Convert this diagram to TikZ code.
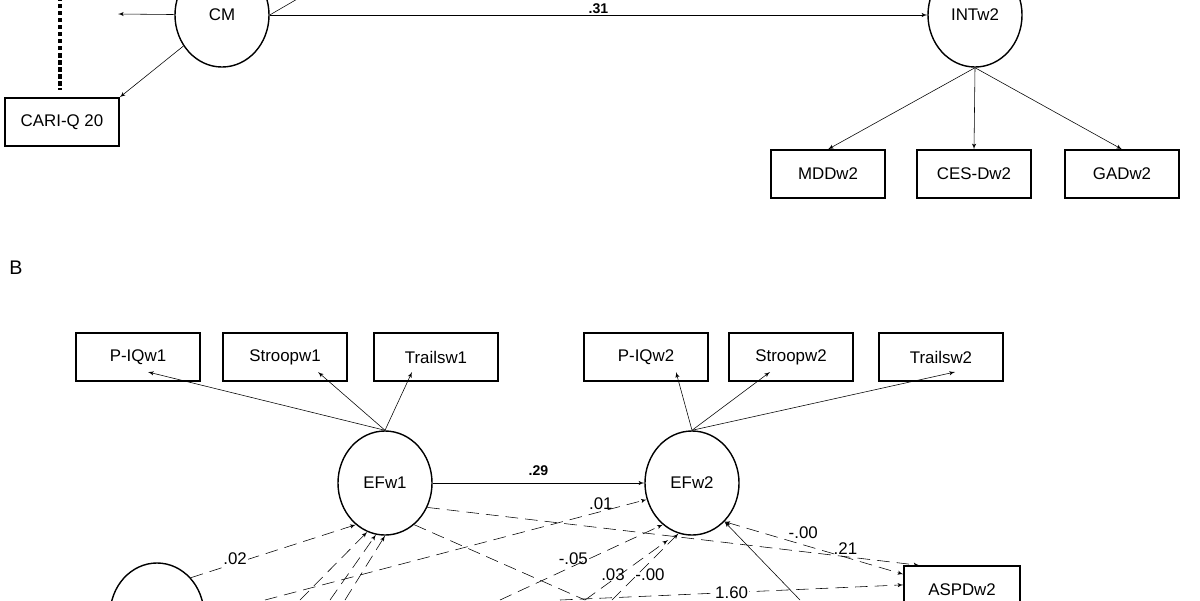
\documentclass[tikz,border=0pt]{standalone}
\usepackage{fontspec}
\setmainfont{Liberation Sans}
\usetikzlibrary{positioning,arrows,calc,shapes.geometric}
\tikzset{
    x=0.025cm,
    y=-0.025cm,
    block/.style = {
        draw,
        shape=rectangle,
        minimum height=1.2cm,
        minimum width=3.1cm,
        line width=1pt,
        font=\fontsize{12}{14}\selectfont
    },
    latent/.style = {
        draw,
        shape=ellipse,
        minimum height=2.6cm,
        minimum width=2.35cm,
        line width=1pt,
        font=\fontsize{12}{14}\selectfont
    },
    coef/.style = {
        font=\fontsize{12}{14}\selectfont,
        fill=white,
        inner sep=1pt
    },
    pathdash/.style = {
        dash pattern=on 9pt off 5pt
    },
    >=latex',
}
\begin{document}
\begin{tikzpicture}
            \useasboundingbox (0,0) rectangle (1200,600);
            \clip (0,0) rectangle (1200,600);
            % panel A
            \node[latent] (cm) at (222,15) {CM};
            \node[latent] (int2) at (975,15) {INTw2};
            \node[block, minimum width=2.85cm] (cari20) at (62,122) {CARI-Q 20};
            \node[block, minimum width=2.85cm] (mdd2) at (828,174) {MDDw2};
            \node[block, minimum width=2.85cm] (ces2) at (974,174) {CES-Dw2};
            \node[block, minimum width=2.85cm] (gad2) at (1122,174) {GADw2};
            \coordinate (cmleft) at (118,14);
            \coordinate (cmup) at (330,-20);
            \coordinate (dottop) at (60,-10);
            \coordinate (dotbot) at (60,90);

            \path[draw, ->] (cm) -- node[coef, above, font=\bfseries] {.31} (int2);
            \path[draw, ->] (cm) -- (cmleft);
            \path[draw, -] (cm.east) -- (cmup);
            \path[draw, ->] (cm) -- (cari20.north east);
            \path[draw, line width=3pt, dotted] (dottop) -- (dotbot);
            \path[draw, ->] (int2.south) -- (mdd2.north);
            \path[draw, ->] (int2.south) -- (ces2.north);
            \path[draw, ->] (int2.south) -- (gad2.north);

            % panel B
            \node[font=\fontsize{14}{16}\selectfont] (lblb) at (16,268) {B};
            \node[block] (piq1) at (138,357) {P-IQw1};
            \node[block] (stroop1) at (285,357) {Stroopw1};
            \node[block] (trails1) at (436,357) {Trailsw1};
            \node[block] (piq2) at (646,357) {P-IQw2};
            \node[block] (stroop2) at (791,357) {Stroopw2};
            \node[block] (trails2) at (941,357) {Trailsw2};
            \node[latent] (ef1) at (385,483) {EFw1};
            \node[latent] (ef2) at (692,483) {EFw2};
            \node[block, minimum width=2.9cm] (aspd2) at (962,590) {ASPDw2};
            \node[latent] (cmb) at (157,615) {};

            \path[draw, ->] (ef1.north) -- (148,372);
            \path[draw, ->] (ef1.north) -- (318,372);
            \path[draw, ->] (ef1.north) -- (412,372);
            \path[draw, ->] (ef2.north) -- (676,372);
            \path[draw, ->] (ef2.north) -- (770,372);
            \path[draw, ->] (ef2.north) -- (955,372);
            \path[draw, ->] (ef1) -- node[coef, above=4pt, fill=none, font=\bfseries] {.29} (ef2);

            \coordinate (s1) at (300,600);
            \coordinate (s2) at (330,600);
            \coordinate (s3) at (345,600);
            \coordinate (s4) at (265,600);
            \coordinate (s5) at (500,600);
            \coordinate (s6) at (612,600);
            \coordinate (s7) at (560,600);
            \coordinate (s8) at (585,600);
            \coordinate (s9) at (800,600);
            \path[draw, ->, pathdash] (cmb.north east) -- node[coef, pos=0.35, left] {.02} (ef1.235);
            \path[draw, ->, pathdash] (s1) -- (ef1.250);
            \path[draw, ->, pathdash] (s2) -- (ef1.260);
            \path[draw, ->, pathdash] (s3) -- (ef1.270);
            \path[draw, ->, pathdash] (s4) -- node[coef, pos=0.88, above, fill=none] {.01} (ef2.200);
            \path[draw, ->, pathdash] (s5) -- node[coef, pos=0.55, left, fill=none] {-.05} (ef2.235);
            \path[draw, ->, pathdash] (s6) -- (ef2.255);
            \node[coef, fill=none] (l03) at (613,575) {.03};
            \node[coef, fill=none] (l00) at (650,575) {-.00};
            \path[draw, ->, pathdash] (ef1.330) -- node[coef, pos=0.85, above, fill=none] {.21} (aspd2.150);
            \path[draw, ->, pathdash] (s8) -- (668,540);
            \path[draw, <->, pathdash] (ef2.310) -- node[coef, pos=0.35, above right, fill=none] {-.00} (aspd2.165);
            \path[draw, ->, pathdash] (s7) -- node[coef, pos=0.5] {1.60} (aspd2.175);
            \path[draw, pathdash] (ef1.305) -- (s8);
            \path[draw, ->] (s9) -- (ef2.310);
\end{tikzpicture}
\end{document}
